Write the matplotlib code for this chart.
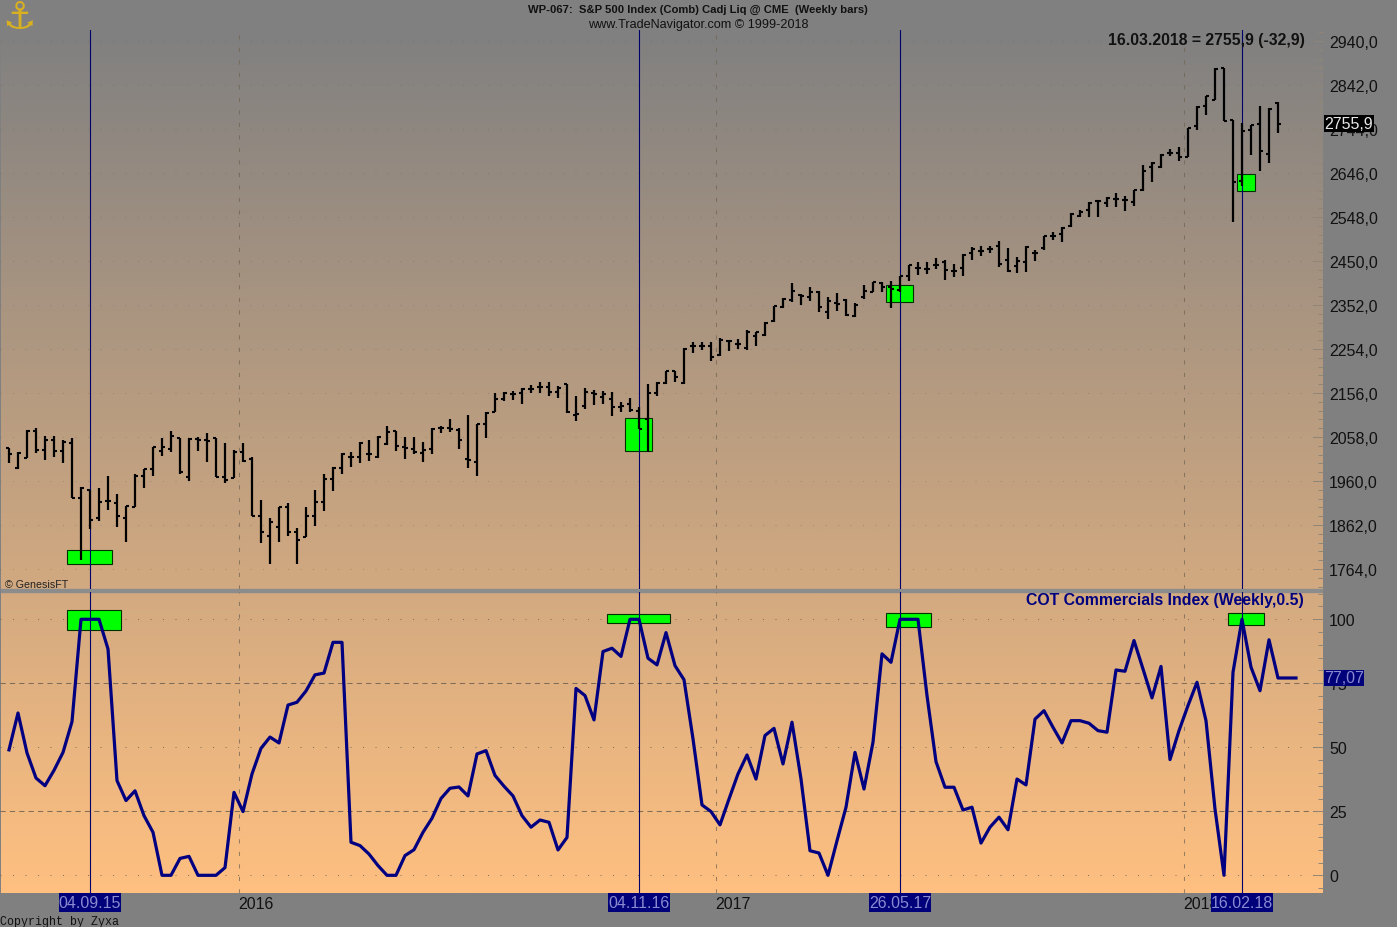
"""S&P 500 weekly bars with the COT Commercials Index below (TradeNavigator look)."""

import matplotlib

matplotlib.use("Agg")
import matplotlib.pyplot as plt
import numpy as np
from matplotlib.patches import Rectangle
from matplotlib.ticker import AutoMinorLocator, FuncFormatter

plt.rcParams["font.family"] = ["Liberation Sans", "DejaVu Sans"]

# weekly bars, first bar is 03.07.2015
bar_high = [2034, 2025, 2074, 2078, 2060, 2060, 2051, 2056, 1947, 1940, 1945, 1971, 1931, 1904, 1976, 1987, 2036, 2056,
            2071, 2056, 2056, 2058, 2067, 2056, 2045, 2029, 2045, 2014, 1918, 1878, 1902, 1911, 1855, 1902, 1940, 1976,
            1991, 2022, 2025, 2047, 2051, 2060, 2083, 2071, 2058, 2058, 2047, 2078, 2083, 2098, 2078, 2107, 2087, 2114,
            2156, 2158, 2161, 2167, 2174, 2181, 2181, 2172, 2176, 2149, 2167, 2163, 2161, 2158, 2136, 2145, 2125, 2176,
            2181, 2205, 2205, 2256, 2270, 2270, 2270, 2279, 2272, 2276, 2296, 2292, 2314, 2350, 2368, 2401, 2377, 2392,
            2383, 2370, 2379, 2365, 2356, 2397, 2403, 2403, 2405, 2417, 2441, 2448, 2448, 2457, 2452, 2443, 2466, 2481,
            2483, 2483, 2495, 2479, 2459, 2483, 2475, 2506, 2515, 2526, 2557, 2564, 2581, 2586, 2593, 2601, 2595, 2608,
            2664, 2670, 2688, 2699, 2704, 2746, 2795, 2818, 2880, 2880, 2764, 2757, 2753, 2795, 2791, 2804]
bar_low = [2000, 1987, 2011, 2022, 2007, 2014, 2000, 1922, 1784, 1853, 1871, 1895, 1858, 1824, 1902, 1945, 1971, 2016,
           2025, 1976, 1960, 2027, 2002, 1969, 1956, 1967, 2002, 1882, 1822, 1775, 1824, 1837, 1775, 1835, 1860, 1893,
           1938, 1976, 1991, 2000, 2005, 2011, 2040, 2027, 2009, 2020, 2002, 2020, 2067, 2069, 2031, 1989, 1971, 2056,
           2114, 2138, 2140, 2132, 2156, 2156, 2149, 2145, 2112, 2094, 2120, 2129, 2132, 2105, 2114, 2114, 2076, 2025,
           2149, 2176, 2181, 2176, 2245, 2252, 2227, 2238, 2250, 2254, 2252, 2261, 2283, 2314, 2345, 2359, 2352, 2361,
           2336, 2321, 2339, 2328, 2325, 2365, 2381, 2381, 2345, 2381, 2405, 2419, 2421, 2432, 2408, 2414, 2417, 2452,
           2461, 2468, 2437, 2426, 2423, 2426, 2450, 2475, 2497, 2492, 2526, 2548, 2548, 2548, 2570, 2570, 2561, 2573,
           2606, 2626, 2657, 2684, 2673, 2682, 2742, 2775, 2809, 2762, 2537, 2617, 2686, 2650, 2668, 2735]
bar_open = [2034, 1989, 2011, 2071, 2029, 2051, 2027, 2045, 1922, 1940, 1878, 1916, 1911, 1878, 1902, 1971, 1987, 2027,
            2031, 2056, 1969, 2054, 2051, 2056, 1969, 1967, 2025, 2009, 1882, 1837, 1858, 1902, 1846, 1835, 1882, 1913,
            1965, 1989, 2014, 2014, 2020, 2014, 2042, 2071, 2036, 2031, 2022, 2031, 2078, 2078, 2074, 2009, 2002, 2087,
            2114, 2143, 2154, 2156, 2165, 2169, 2169, 2158, 2176, 2107, 2127, 2156, 2147, 2143, 2125, 2132, 2116, 2098,
            2156, 2178, 2205, 2178, 2261, 2261, 2261, 2241, 2272, 2265, 2256, 2283, 2285, 2316, 2348, 2363, 2374, 2370,
            2381, 2336, 2356, 2363, 2328, 2370, 2381, 2401, 2392, 2385, 2417, 2434, 2432, 2441, 2448, 2428, 2434, 2468,
            2472, 2477, 2483, 2452, 2439, 2448, 2468, 2479, 2506, 2510, 2528, 2550, 2564, 2584, 2579, 2588, 2586, 2581,
            2608, 2659, 2659, 2691, 2691, 2682, 2751, 2795, 2809, 2880, 2764, 2628, 2742, 2755, 2688, 2802]
bar_close = [2020, 2022, 2071, 2029, 2051, 2027, 2047, 1922, 1945, 1873, 1913, 1916, 1882, 1904, 1971, 1987, 2036, 2036,
             2060, 1980, 2054, 2051, 2049, 1969, 1962, 2025, 2005, 1882, 1846, 1869, 1902, 1846, 1829, 1882, 1913, 1965,
             1989, 2020, 2014, 2045, 2020, 2058, 2069, 2038, 2034, 2025, 2029, 2076, 2078, 2076, 2051, 2007, 2087, 2112,
             2143, 2156, 2154, 2165, 2165, 2169, 2158, 2167, 2114, 2109, 2158, 2154, 2154, 2125, 2127, 2118, 2076, 2156,
             2178, 2205, 2192, 2254, 2261, 2261, 2236, 2274, 2272, 2265, 2292, 2292, 2312, 2350, 2365, 2383, 2372, 2381,
             2348, 2361, 2354, 2330, 2352, 2383, 2403, 2392, 2388, 2417, 2441, 2434, 2432, 2441, 2430, 2428, 2463, 2477,
             2472, 2477, 2443, 2428, 2450, 2481, 2468, 2506, 2506, 2524, 2555, 2559, 2579, 2584, 2590, 2588, 2586, 2608,
             2650, 2668, 2686, 2691, 2682, 2746, 2793, 2818, 2878, 2762, 2626, 2740, 2753, 2695, 2789, 2755.9]

cot_index = [49, 63.4, 47.8, 38, 35, 41, 48, 60, 100, 100, 100, 88.4, 37, 29.2, 33, 23.3, 16.8, 0, 0, 6.6, 7.4, 0, 0, 0,
             3, 32.4, 24.9, 39.6, 49.6, 54, 51.7, 66.5, 67.6, 72, 78.3, 79, 91, 91, 12.9, 11.6, 8.3, 3.8, 0, 0, 7.7, 10,
             16.8, 22.3, 30, 34, 34.5, 31, 47.4, 48.7, 39, 34.8, 31, 23.3, 18.8, 21.6, 20.7, 9.9, 14.8, 73, 70.2, 60.7,
             87.4, 88.7, 85.5, 100, 100, 84.8, 82.2, 94.8, 81.9, 76.4, 53.3, 27.5, 24.9, 19.7, 29.8, 39.6, 47, 37.6,
             54.6, 57.4, 43.5, 59.8, 37.6, 9.6, 8.7, 0, 13.5, 26.6, 48, 33.7, 52, 86.5, 83.2, 100, 100, 100, 70.2, 44.4,
             34.4, 34.4, 25.5, 26.6, 12.6, 18.8, 22.7, 17.8, 37.6, 35.3, 61, 64.3, 57.8, 51.7, 60.4, 60.4, 59.4, 56.5,
             55.9, 80.2, 79.7, 91.7, 80.6, 69.3, 81.6, 45.2, 56.5, 66.3, 75.4, 60.4, 25.9, 0, 79.3, 100, 81.3, 72.1, 92,
             77.07, 77.07, 77.07]

signal_bars = [9, 70, 99, 137]
signal_dates = ["04.09.15", "04.11.16", "26.05.17", "16.02.18"]
year_bars = [25.5, 78.5, 130.5]
year_labels = ["2016", "2017", "2018"]

price_ticks = list(range(1764, 2941, 98))
cot_ticks = [0, 25, 50, 75, 100]

# green zones: first bar, last bar, bottom, top
price_zones = [(6.4, 11.4, 1775, 1806), (68.4, 71.4, 2027, 2100), (97.4, 100.4, 2359, 2397), (136.4, 138.4, 2606, 2644)]
cot_zones = [(6.4, 12.4, 96, 103.5), (66.4, 73.4, 98.7, 102), (97.4, 102.4, 97.1, 102.3), (135.4, 139.4, 97.9, 102.3)]

last_close = 2755.9
last_cot = 77.07

WIDTH, HEIGHT = 1397, 928
PLOT_RIGHT = 1323
GRID = "#6f6250"
NAVY = "#00006a"
TAG_TEXT = "#8a8ad0"


def panel(top, bottom, left=0, right=PLOT_RIGHT, **kw):
    return fig.add_axes([left / WIDTH, 1 - bottom / HEIGHT, (right - left) / WIDTH, (bottom - top) / HEIGHT], **kw)


def label(x, y, text, **kw):
    fig.text(x / WIDTH, 1 - y / HEIGHT, text, va="center", **kw)


fig = plt.figure(figsize=(WIDTH / 100, HEIGHT / 100), dpi=100, facecolor="#808080")

# gradient runs through both panels, separator sits on top of it
bg = panel(31, 894, left=1)
shade = np.linspace([128, 128, 128], [255, 192, 128], 400)[:, None, :] / 255
bg.imshow(shade, aspect="auto", extent=[0, 1, 894, 31])
bg.axhspan(590, 593, color="#8c8c8c")
bg.set_axis_off()

ax = panel(31, 590, facecolor="none")
ax2 = panel(593, 894, facecolor="none")

bars = np.arange(len(bar_close))
cot_x = np.arange(len(cot_index))
for a in (ax, ax2):
    a.set_xlim(-1, 146)
    for spine in a.spines.values():
        spine.set_visible(False)
    a.yaxis.tick_right()
    a.yaxis.set_minor_locator(AutoMinorLocator(5))
    a.tick_params(axis="y", which="major", direction="in", length=7, width=0.7, color="#8f8678", pad=4.5,
                  labelsize=11.5, labelcolor="#111111")
    a.tick_params(axis="y", which="minor", direction="in", length=3.6, width=0.7, color="#8f8678")
    for x in year_bars:
        a.axvline(x, color=GRID, lw=0.75, ls=(0, (4, 8)), alpha=0.7, zorder=1)
    for x in signal_bars:
        a.axvline(x, color=NAVY, lw=0.8, zorder=3)

ax.set_ylim(1719.5, 2964.6)
ax.set_yticks(price_ticks)
ax.yaxis.set_major_formatter(FuncFormatter(lambda v, _: f"{v:.1f}".replace(".", ",")))
ax.set_xticks([])
for v in price_ticks:
    ax.axhline(v, color=GRID, lw=0.75, ls=(0, (1, 11)), alpha=0.35, zorder=1)

ax2.set_ylim(-6.91, 110.66)
ax2.set_yticks(cot_ticks)
for v in cot_ticks:
    if v in (25, 75):
        ax2.axhline(v, color=GRID, lw=0.75, ls=(0, (5, 4)), alpha=0.85, zorder=1)
    else:
        ax2.axhline(v, color=GRID, lw=0.75, ls=(0, (1, 11)), alpha=0.8, zorder=1)

for target, zones in ((ax, price_zones), (ax2, cot_zones)):
    for first, last, lo, hi in zones:
        target.add_patch(Rectangle((first, lo), last - first, hi - lo, fc="#00ff00", ec="#003000", lw=0.8, zorder=2))

ax.vlines(bars, bar_low, bar_high, color="black", lw=1.6, zorder=4)
ax.hlines(bar_open, bars - 0.33, bars, color="black", lw=1.5, zorder=4)
ax.hlines(bar_close, bars, bars + 0.33, color="black", lw=1.5, zorder=4)

ax2.plot(cot_x, cot_index, color="#000080", lw=2.3, zorder=4)

# bottom axis: year labels and the navy date tags
ax2.set_xticks(year_bars, year_labels, ha="left")
ax2.tick_params(axis="x", length=0, pad=2, labelsize=11.5, labelcolor="#111111")
for x, text in zip(signal_bars, signal_dates):
    ax2.add_patch(Rectangle((x - 3.44, -0.063), 6.88, 0.063, transform=ax2.get_xaxis_transform(), fc="#00007a", ec="none",
                            clip_on=False, zorder=10))
    ax2.text(x, -0.031, text, transform=ax2.get_xaxis_transform(), ha="center", va="center", fontsize=11.5,
             color=TAG_TEXT, clip_on=False, zorder=11)

# last value tags on the right scale
ax.add_patch(Rectangle((1.0008, last_close - 19), 50 / PLOT_RIGHT, 38, transform=ax.get_yaxis_transform(), fc="black",
                       ec="none", clip_on=False, zorder=10))
ax.text(1.0008, last_close, f"{last_close}".replace(".", ","), transform=ax.get_yaxis_transform(), ha="left", va="center",
        fontsize=11.5, color="#e8e8e8", clip_on=False, zorder=11)
ax2.add_patch(Rectangle((1.0008, last_cot - 3.3), 40 / PLOT_RIGHT, 6.6, transform=ax2.get_yaxis_transform(), fc="#00007a",
                        ec="none", clip_on=False, zorder=10))
ax2.text(1.0008, last_cot, f"{last_cot}".replace(".", ","), transform=ax2.get_yaxis_transform(), ha="left", va="center",
         fontsize=11.5, color=TAG_TEXT, clip_on=False, zorder=11)

label(698, 10, "WP-067:  S&P 500 Index (Comb) Cadj Liq @ CME  (Weekly bars)", ha="center", fontsize=8.1, fontweight="bold",
      color="#111111")
label(698, 25, "www.TradeNavigator.com © 1999-2018", ha="center", fontsize=9.1, color="#111111")
label(1206, 40, "16.03.2018 = 2755,9 (-32,9)", ha="center", fontsize=11.35, fontweight="bold", color="#111111")
label(1165, 601, "COT Commercials Index (Weekly,0.5)", ha="center", fontsize=11.4, fontweight="bold", color="#00007f")
label(5, 585, "© GenesisFT", ha="left", fontsize=7.7, color="#222222")
label(0, 922, "Copyright by Zyxa", ha="left", fontsize=8.4, family="Liberation Mono", color="#111111")
label(19, 19, "⚓", ha="center", fontsize=27, family="DejaVu Sans", color="#d8b020")

fig.savefig("out.png", dpi=100, facecolor=fig.get_facecolor())
